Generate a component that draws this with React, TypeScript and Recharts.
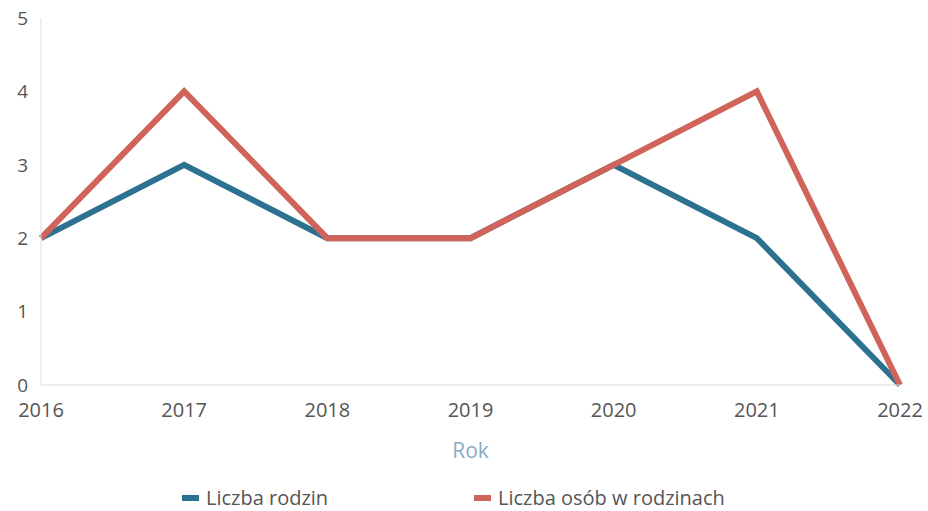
import React from 'react';
import { LineChart, Line, XAxis, YAxis, Legend } from 'recharts';

const years = ['2016', '2017', '2018', '2019', '2020', '2021', '2022'];
const familyCount = [2, 3, 2, 2, 3, 2, 0];
const personCount = [2, 4, 2, 2, 3, 4, 0];
const yTicks = [0, 1, 2, 3, 4, 5];

const data = years.map((year, i) => ({
  year,
  rodziny: familyCount[i],
  osoby: personCount[i],
}));

const BLUE = '#2d7191';
const RED = '#d0645b';
const FONT = '"Open Sans", sans-serif';

function CustomLegend() {
  const items = [
    { label: 'Liczba rodzin', color: BLUE, left: 182 },
    { label: 'Liczba osób w rodzinach', color: RED, left: 474 },
  ];
  return (
    <div style={{ position: 'relative', height: 28, fontFamily: FONT }}>
      {items.map((it) => (
        <div
          key={it.label}
          style={{
            position: 'absolute',
            left: it.left,
            top: 0,
            height: 28,
            display: 'flex',
            alignItems: 'center',
            gap: 7,
            fontSize: 20,
            color: '#555',
          }}
        >
          <span
            style={{
              display: 'inline-block',
              width: 17,
              height: 6,
              marginTop: 2,
              backgroundColor: it.color,
            }}
          />
          <span>{it.label}</span>
        </div>
      ))}
    </div>
  );
}

export default function App() {
  return (
    <div style={{ position: 'absolute', left: 0, top: 0, background: '#fff' }}>
      <LineChart
        width={928}
        height={511}
        data={data}
        margin={{ top: 18, right: 28, left: 0, bottom: 0 }}
      >
        <XAxis
          dataKey="year"
          tickLine={false}
          tickSize={0}
          tickMargin={18}
          axisLine={{ stroke: '#d8d8d8' }}
          tick={{ fontSize: 20, fill: '#555', fontFamily: FONT }}
          height={98}
          interval={0}
          label={{
            value: 'Rok',
            position: 'insideTop',
            offset: 58,
            fill: '#8aaac4',
            fontSize: 21,
            fontFamily: FONT,
          }}
        />
        <YAxis
          width={41}
          domain={[0, 5]}
          ticks={yTicks}
          tickLine={false}
          tickSize={0}
          tickMargin={13}
          axisLine={{ stroke: '#e0e0e0' }}
          tick={{ fontSize: 19, fill: '#555', fontFamily: FONT }}
        />
        <Legend
          verticalAlign="bottom"
          content={<CustomLegend />}
          wrapperStyle={{ left: 0, width: 928 }}
        />
        <Line
          dataKey="rodziny"
          type="linear"
          stroke={BLUE}
          strokeWidth={6}
          dot={false}
          activeDot={false}
          isAnimationActive={false}
        />
        <Line
          dataKey="osoby"
          type="linear"
          stroke={RED}
          strokeWidth={6}
          dot={false}
          activeDot={false}
          isAnimationActive={false}
        />
      </LineChart>
    </div>
  );
}
